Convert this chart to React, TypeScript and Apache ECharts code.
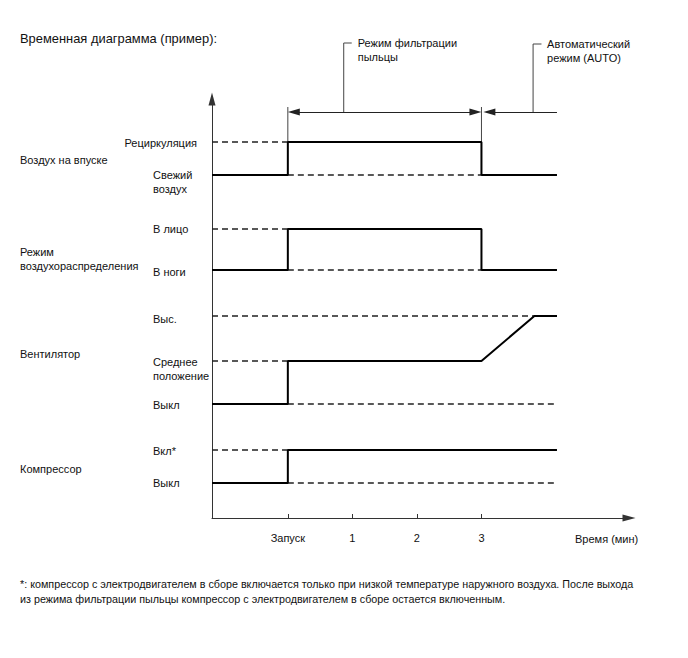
import React, { useEffect, useRef } from "react";
import * as echarts from "echarts";

// ---- time axis (minutes) ----
const AXIS_MIN = -1.175;
const AXIS_MAX = 5.286;
const timeTickValues = [0, 1, 2, 3];
const timeTickLabels = ["Запуск", "1", "2", "3"];
const T_START = -1.175;
const T_END = 4.17;
const T_FAN_HIGH = 3.82;

// ---- signal levels (vertical units) ----
const Y_MAX = 419;
const RECIRC = 376;
const FRESH = 343;
const FACE = 289;
const FOOT = 248;
const FAN_HIGH = 202;
const FAN_MID = 157;
const FAN_OFF = 114;
const COMP_ON = 68;
const COMP_OFF = 35;
const DIM_Y = 406;
const MARK_TOP = 411;
const LEADER_TOP = 475;

// ---- signal traces ----
const intakeTrace = [[T_START, FRESH], [0, FRESH], [0, RECIRC], [3, RECIRC], [3, FRESH], [T_END, FRESH]];
const modeTrace = [[T_START, FOOT], [0, FOOT], [0, FACE], [3, FACE], [3, FOOT], [T_END, FOOT]];
const fanTrace = [[T_START, FAN_OFF], [0, FAN_OFF], [0, FAN_MID], [3, FAN_MID], [T_FAN_HIGH, FAN_HIGH], [T_END, FAN_HIGH]];
const compTrace = [[T_START, COMP_OFF], [0, COMP_OFF], [0, COMP_ON], [T_END, COMP_ON]];

// ---- dashed reference levels ----
const dashedLevels = [
  [[T_START, RECIRC], [0, RECIRC]],
  [[0, FRESH], [3, FRESH]],
  [[T_START, FACE], [0, FACE]],
  [[0, FOOT], [3, FOOT]],
  [[T_START, FAN_HIGH], [T_FAN_HIGH, FAN_HIGH]],
  [[T_START, FAN_MID], [0, FAN_MID]],
  [[0, FAN_OFF], [T_END, FAN_OFF]],
  [[T_START, COMP_ON], [0, COMP_ON]],
  [[0, COMP_OFF], [T_END, COMP_OFF]],
];

// ---- annotation guide lines ----
const markers = [
  [[0, RECIRC], [0, MARK_TOP]],
  [[3, FRESH], [3, MARK_TOP]],
];
const leaders = [
  [[0.866, DIM_Y], [0.866, LEADER_TOP], [0.99, LEADER_TOP]],
  [[3.8, DIM_Y], [3.8, LEADER_TOP - 1], [3.93, LEADER_TOP - 1]],
];
const ARROW_HALF = 0.093;

// ---- texts ----
const titleText = "Временная диаграмма (пример):";
const groupLabels = ["Воздух на впуске", "Режим\nвоздухораспределения", "Вентилятор", "Компрессор"];
const levelLabels = ["Рециркуляция", "Свежий\nвоздух", "В лицо", "В ноги", "Выс.", "Среднее\nположение", "Выкл", "Вкл*", "Выкл"];
const annoLabels = ["Режим фильтрации\nпыльцы", "Автоматический\nрежим (AUTO)"];
const xAxisName = "Время (мин)";
const footnote = [
  "*: компрессор с электродвигателем в сборе включается только при низкой температуре наружного воздуха. После выхода",
  "из режима фильтрации пыльцы компрессор с электродвигателем в сборе остается включенным.",
];

const FONT = "'Liberation Sans', Arial, sans-serif";

function txt(text: string, x: number, y: number, size = 11, align = "left") {
  const lines = text.split("\n");
  return lines.map((l, i) => ({
    type: "text",
    silent: true,
    style: {
      text: l,
      x,
      y: y + i * 14,
      fill: "#111",
      font: `${size}px ${FONT}`,
      align,
      verticalAlign: "middle",
    },
  }));
}

export default function App() {
  const ref = useRef<HTMLDivElement>(null);
  useEffect(() => {
    if (!ref.current) return;
    const chart = echarts.init(ref.current, null, { renderer: "svg" });
    const solid = (data: number[][]) => ({
      type: "line",
      data,
      symbol: "none",
      clip: false,
      z: 5,
      lineStyle: { color: "#000", width: 2 },
    });
    const series: any[] = [];
    dashedLevels.forEach((d) =>
      series.push({
        type: "line",
        data: d,
        symbol: "none",
        z: 2,
        lineStyle: { color: "#222", width: 1.3, type: [6, 4] },
      })
    );
    [...markers, ...leaders].forEach((d) =>
      series.push({
        type: "line",
        data: d,
        symbol: "none",
        clip: false,
        z: 3,
        lineStyle: { color: "#444", width: 1 },
      })
    );
    [intakeTrace, modeTrace, fanTrace, compTrace].forEach((d) => series.push(solid(d)));
    series.push({
      type: "line",
      data: [],
      clip: false,
      markLine: {
        silent: true,
        animation: false,
        label: { show: false },
        lineStyle: { color: "#222", width: 1, type: "solid" },
        symbolSize: [7, 12],
        data: [
          [
            { coord: [0 + ARROW_HALF, DIM_Y], symbol: "triangle" },
            { coord: [3 - ARROW_HALF, DIM_Y], symbol: "triangle" },
          ],
          [
            { coord: [3.03 + ARROW_HALF, DIM_Y], symbol: "triangle" },
            { coord: [T_END, DIM_Y], symbol: "none" },
          ],
        ],
      },
    });

    chart.setOption({
      animation: false,
      grid: { left: 212, right: 59, top: 99, bottom: 140, outerBoundsMode: "none" },
      xAxis: {
        type: "value",
        min: AXIS_MIN,
        max: AXIS_MAX,
        splitLine: { show: false },
        axisLine: { onZero: false, lineStyle: { color: "#333", width: 1 }, symbol: ["none", "triangle"], symbolSize: [7, 13] },
        axisTick: { customValues: timeTickValues, inside: true, length: 4, lineStyle: { color: "#333" } },
        axisLabel: {
          customValues: timeTickValues,
          margin: 14,
          color: "#111",
          fontSize: 11,
          fontFamily: FONT,
          formatter: (v: number) => timeTickLabels[timeTickValues.indexOf(v)] ?? "",
        },
      },
      yAxis: {
        type: "value",
        min: 0,
        max: Y_MAX,
        splitLine: { show: false },
        axisLabel: { show: false },
        axisTick: { show: false },
        axisLine: { show: true, onZero: false, lineStyle: { color: "#333", width: 1 }, symbol: ["none", "triangle"], symbolSize: [7, 13] },
      },
      series,
    });

    const px = (t: number, v: number) => chart.convertToPixel({ gridIndex: 0 }, [t, v]) as number[];
    const yOf = (v: number) => px(0, v)[1];
    const graphics: any[] = [
      ...txt(titleText, 20, 38, 12.9),
      ...txt(groupLabels[0], 20, (yOf(RECIRC) + yOf(FRESH)) / 2 + 1),
      ...txt(groupLabels[1], 20, (yOf(FACE) + yOf(FOOT)) / 2 + 2),
      ...txt(groupLabels[2], 20, yOf(FAN_MID) - 7),
      ...txt(groupLabels[3], 20, (yOf(COMP_ON) + yOf(COMP_OFF)) / 2 + 2),
      ...txt(levelLabels[0], 197, yOf(RECIRC) + 1, 11, "right"),
      ...txt(levelLabels[1], 153, yOf(FRESH)),
      ...txt(levelLabels[2], 153, yOf(FACE)),
      ...txt(levelLabels[3], 153, yOf(FOOT) + 2),
      ...txt(levelLabels[4], 153, yOf(FAN_HIGH) + 3),
      ...txt(levelLabels[5], 153, yOf(FAN_MID) + 1),
      ...txt(levelLabels[6], 153, yOf(FAN_OFF) + 1),
      ...txt(levelLabels[7], 153, yOf(COMP_ON) + 1),
      ...txt(levelLabels[8], 153, yOf(COMP_OFF)),
      ...txt(annoLabels[0], px(0.866, 0)[0] + 14, yOf(LEADER_TOP)),
      ...txt(annoLabels[1], px(3.8, 0)[0] + 14, yOf(LEADER_TOP - 1)),
      ...txt(xAxisName, 575, 539),
      ...txt(footnote[0], 20, 584, 10.75),
      ...txt(footnote[1], 20, 599, 10.75),
    ];
    chart.setOption({ graphic: graphics });
    return () => chart.dispose();
  }, []);
  return (
    <div
      ref={ref}
      style={{ position: "absolute", left: 0, top: 0, width: 688, height: 658, background: "#fff" }}
    />
  );
}
